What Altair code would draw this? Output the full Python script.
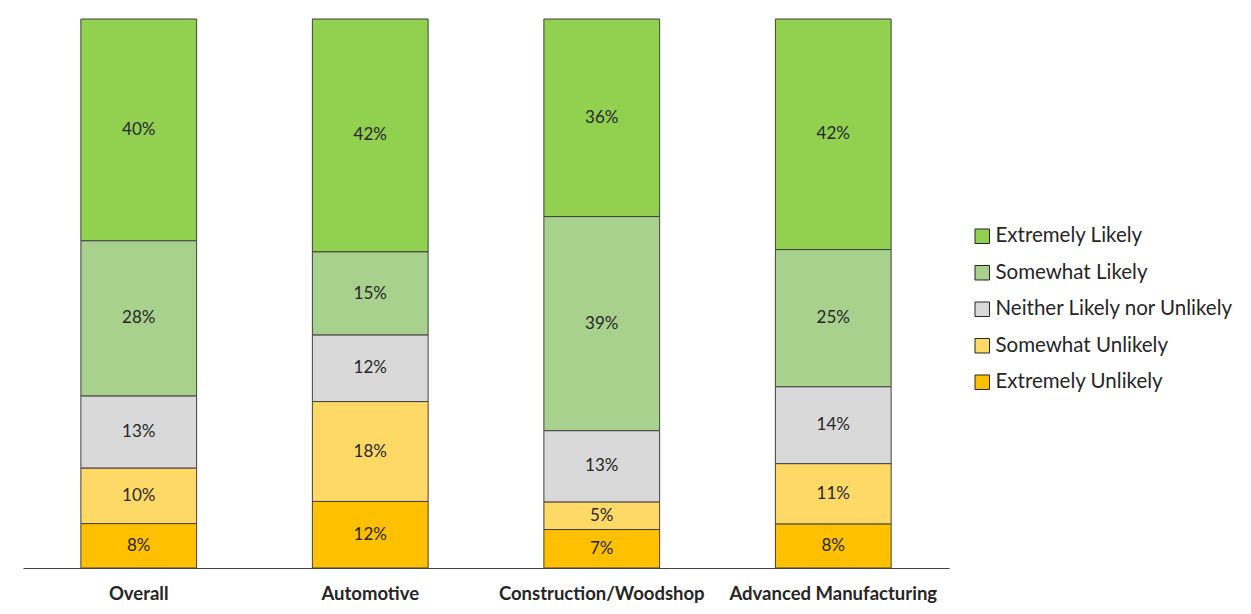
import altair as alt
import pandas as pd

categories = ["Overall", "Automotive", "Construction/Woodshop", "Advanced Manufacturing"]
responses = ["Extremely Likely", "Somewhat Likely", "Neither Likely nor Unlikely",
             "Somewhat Unlikely", "Extremely Unlikely"]
colors = ["#92D050", "#A9D18E", "#D9D9D9", "#FFD966", "#FFC000"]

extremely_likely = [40, 42, 36, 42]
somewhat_likely = [28, 15, 39, 25]
neither = [13, 12, 13, 14]
somewhat_unlikely = [10, 18, 5, 11]
extremely_unlikely = [8, 12, 7, 8]

series = [extremely_likely, somewhat_likely, neither, somewhat_unlikely, extremely_unlikely]
rows = []
for r_i, (resp, vals) in enumerate(zip(responses, series)):
    for cat, v in zip(categories, vals):
        rows.append({"cat": cat, "resp": resp, "value": v, "order": 4 - r_i,
                     "label": f"{v}%"})
df = pd.DataFrame(rows)

FONT = "Lato"

base = alt.Chart(df).transform_stack(
    stack="value", groupby=["cat"], sort=[alt.SortField("order", "ascending")],
    offset="normalize", as_=["y0", "y1"]
).transform_calculate(mid="(datum.y0 + datum.y1) / 2")

x = alt.X("cat:N", sort=categories, title=None,
          scale=alt.Scale(paddingInner=0.5, paddingOuter=0.25),
          axis=alt.Axis(labelAngle=0, labelFontWeight="bold", labelFontSize=18.5,
                        labelColor="#262626", labelFont=FONT, ticks=False,
                        labelPadding=16, domainColor="#404040", domainWidth=1,
                        labelLimit=400))
yscale = alt.Scale(domain=[0, 1], nice=False, zero=True)

bars = base.mark_bar(stroke="#404040", strokeWidth=1).encode(
    x=x,
    y=alt.Y("y0:Q", scale=yscale, axis=None),
    y2="y1:Q",
    color=alt.Color("resp:N", sort=responses,
                    scale=alt.Scale(domain=responses, range=colors),
                    legend=alt.Legend(title=None, orient="none", legendX=949, legendY=207,
                                      symbolType="square", symbolSize=210,
                                      symbolStrokeColor="#262626", symbolStrokeWidth=1,
                                      labelFontSize=20.5, labelFont=FONT, labelColor="#262626",
                                      rowPadding=15.5, labelOffset=3, labelLimit=400)),
)

text = base.mark_text(fontSize=17, font=FONT, color="#262626").encode(
    x=alt.X("cat:N", sort=categories),
    y=alt.Y("mid:Q", scale=yscale),
    text="label:N",
)

chart = alt.layer(bars, text).properties(
    width=926, height=549,
    padding={"left": 15, "top": 10, "right": 0, "bottom": 0},
).configure_view(stroke=None)

chart.save("out.html", embed_options={"renderer": "svg", "actions": False})
